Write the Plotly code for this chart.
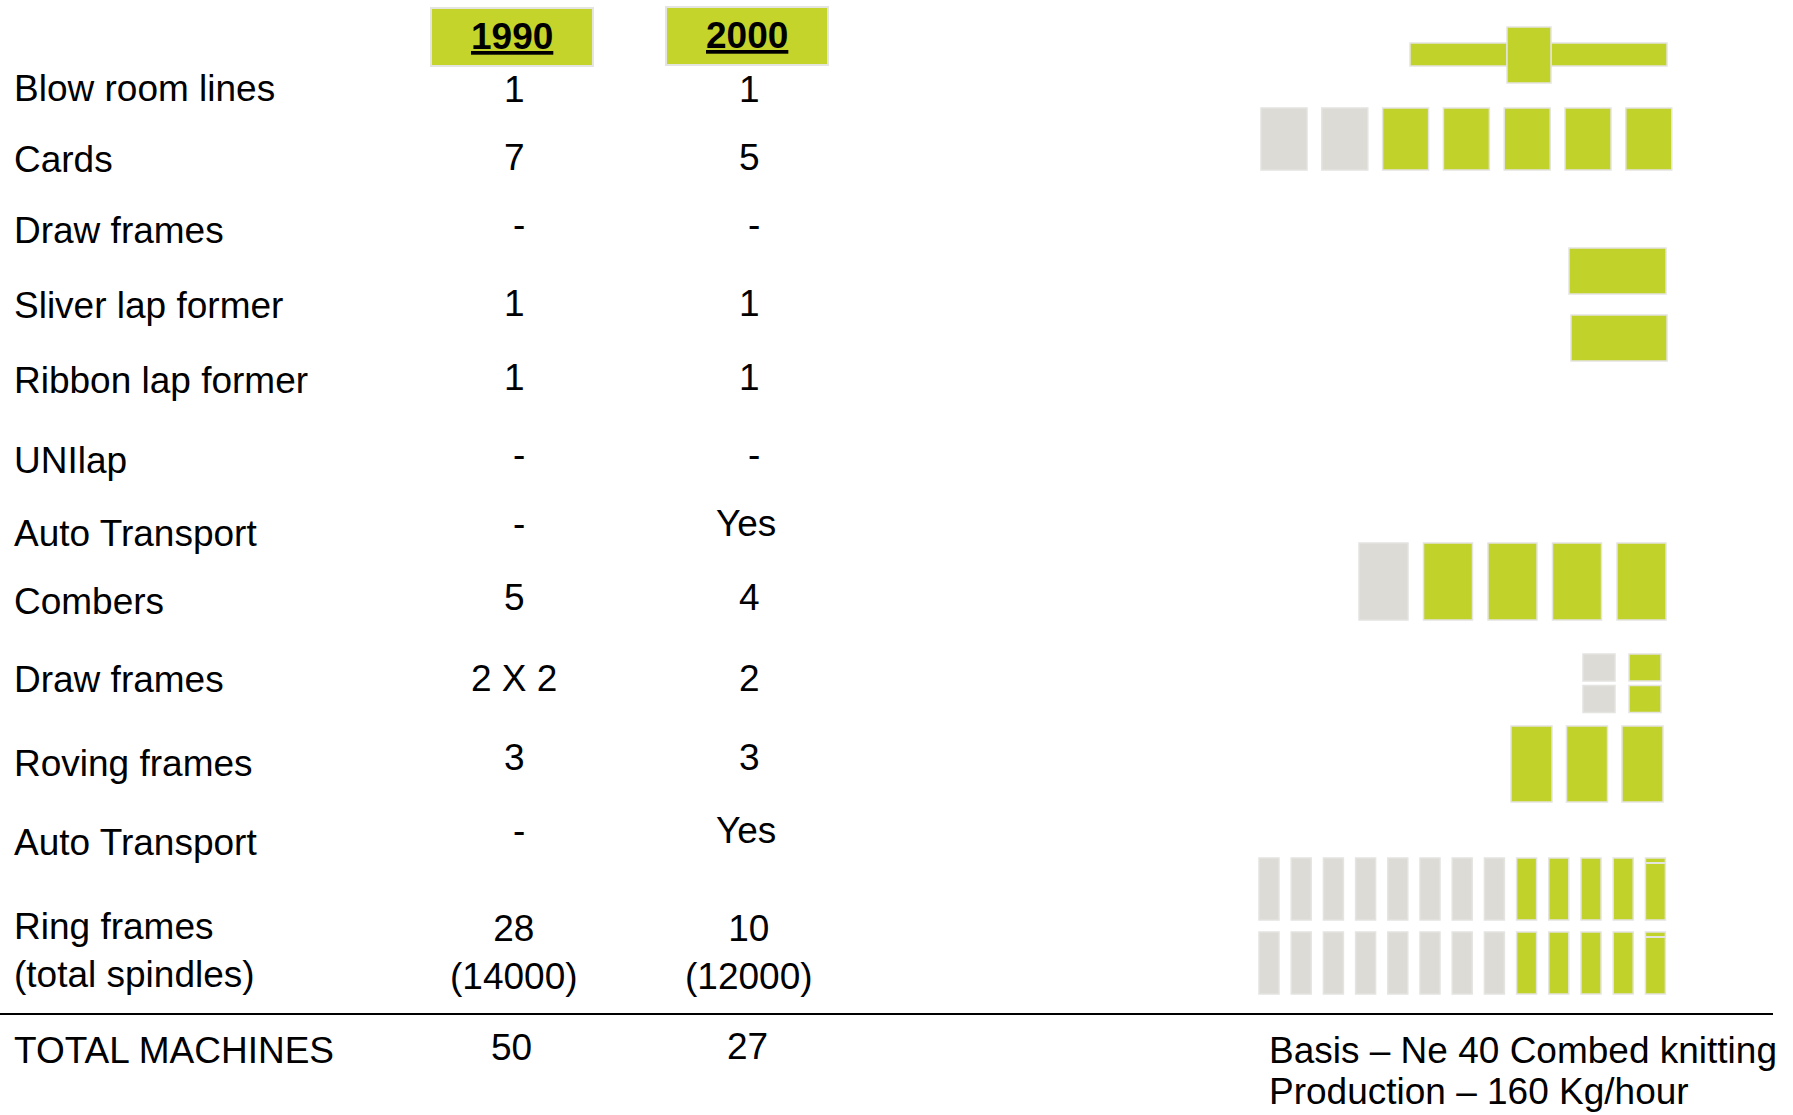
import plotly.graph_objects as go

# ---------------- data ----------------
years = ["1990", "2000"]
machines = ["Blow room lines", "Cards", "Draw frames", "Sliver lap former",
            "Ribbon lap former", "UNIlap", "Auto Transport", "Combers",
            "Draw frames", "Roving frames", "Auto Transport",
            "Ring frames<br>(total spindles)"]
values_1990 = ["1", "7", "-", "1", "1", "-", "-", "5", "2 X 2", "3", "-", "28<br>(14000)"]
values_2000 = ["1", "5", "-", "1", "1", "-", "Yes", "4", "2", "3", "Yes", "10<br>(12000)"]
total_label = "TOTAL MACHINES"
totals = ["50", "27"]
basis_lines = ["Basis \u2013 Ne 40 Combed knitting", "Production \u2013 160 Kg/hour"]

# icon counts: machines removed (grey) and kept (green) 1990 -> 2000
cards_removed, cards_kept = 2, 5
combers_removed, combers_kept = 1, 4
draw_removed, draw_kept = 2, 2
roving_kept = 3
ring_removed, ring_kept = 16, 10

# ---------------- styles / layout ----------------
W, H = 1793, 1115
FONT = "Liberation Sans, Arial, sans-serif"
FS = 37
GREEN = "rgb(193,210,42)"
HEAD_GREEN = "rgb(196,212,42)"
GREY = "rgb(221,219,214)"
EDGE = "rgb(228,228,225)"

label_x = 12
col_x = [514, 749]
label_y = [88, 159, 230, 305, 380, 460, 533, 601, 679, 763, 842, 950]
value_y = [89, 157, 224, 303, 377, 454, 523, 597, 678, 757, 830, 952]
total_y = 1049

fig = go.Figure()
fig.add_trace(go.Scatter(x=[0, W], y=[0, H], mode="markers",
                         marker=dict(opacity=0), hoverinfo="skip", showlegend=False))

shapes = []
annotations = []


def rect(x0, y0, x1, y1, fill, lw=1.5):
    shapes.append(dict(type="rect", xref="x", yref="y", x0=x0, y0=y0, x1=x1, y1=y1,
                       fillcolor=fill, line=dict(color=EDGE, width=lw), layer="above"))


def text(x, y, s, anchor="center", size=FS, align="center"):
    annotations.append(dict(x=x, y=y, xref="x", yref="y", text=s, showarrow=False,
                            xanchor=anchor, yanchor="middle", align=align,
                            font=dict(family=FONT, size=size, color="black")))


def value_x(base, s):
    if s == "-":
        return base + 5
    if s == "Yes":
        return base - 3
    return base


# header boxes
header_boxes = [(431, 8, 593, 66), (666, 7, 828, 65)]
for (x0, y0, x1, y1), yr in zip(header_boxes, years):
    rect(x0, y0, x1, y1, HEAD_GREEN, lw=2)
    text((x0 + x1) / 2, (y0 + y1) / 2 - 1, "<b><u>" + yr + "</u></b>")

# table rows
for lab, ly, vy, a, b in zip(machines, label_y, value_y, values_1990, values_2000):
    text(label_x, ly, lab, anchor="left", align="left")
    text(value_x(col_x[0], a), vy, a)
    text(value_x(col_x[1], b), vy, b)

# separator line
shapes.append(dict(type="line", xref="x", yref="y", x0=0, x1=1773, y0=1014, y1=1014,
                   line=dict(color="black", width=2)))

# totals
text(label_x, total_y + 1, total_label, anchor="left", align="left")
text(col_x[0] - 3, total_y - 2, totals[0])
text(col_x[1] - 2, total_y - 3, totals[1])

# basis
text(1267, 1050, basis_lines[0], anchor="left", align="left")
text(1267, 1091, basis_lines[1], anchor="left", align="left")

# ---------------- icons ----------------
# blow room line
rect(1410, 43, 1507, 66, GREEN)
rect(1551, 43, 1667, 66, GREEN)
rect(1507, 27, 1551, 83, GREEN)

# cards
for i in range(cards_removed + cards_kept):
    x0 = 1261 + i * 60.8
    rect(x0, 108, x0 + 46, 170, GREY if i < cards_removed else GREEN)

# sliver lap former / ribbon lap former
rect(1569, 248, 1666, 294, GREEN)
rect(1571, 315, 1667, 361, GREEN)

# combers
for i in range(combers_removed + combers_kept):
    x0 = 1359 + i * 64.5
    rect(x0, 543, x0 + 49, 620, GREY if i < combers_removed else GREEN)

# draw frames (2 x 2)
for r in range(draw_removed):
    y0 = 654 + r * 31.5
    rect(1583, y0, 1615, y0 + 27, GREY)
for r in range(draw_kept):
    y0 = 654 + r * 31.5
    rect(1629, y0, 1661, y0 + 27, GREEN)

# roving frames
for i in range(roving_kept):
    x0 = 1511 + i * 55.5
    rect(x0, 726, x0 + 41, 802, GREEN)

# ring frames: two rows
per_row = (ring_removed + ring_kept) // 2
grey_per_row = ring_removed // 2
for r in range(2):
    y0 = 858 + r * 74
    for i in range(per_row):
        x0 = 1259 + i * 32.2
        rect(x0, y0, x0 + 20, y0 + 62, GREY if i < grey_per_row else GREEN, lw=1.5)
        if i == per_row - 1:
            shapes.append(dict(type="line", xref="x", yref="y", x0=x0, x1=x0 + 20,
                               y0=y0 + 5, y1=y0 + 5, line=dict(color=EDGE, width=2),
                               layer="above"))

fig.update_layout(
    width=W, height=H, autosize=False,
    margin=dict(l=0, r=0, t=0, b=0, pad=0),
    paper_bgcolor="white", plot_bgcolor="white",
    xaxis=dict(range=[0, W], visible=False, fixedrange=True),
    yaxis=dict(range=[H, 0], visible=False, fixedrange=True),
    shapes=shapes, annotations=annotations, showlegend=False,
)

fig.write_html("out.html", config={"displayModeBar": False},
               post_script="document.body.style.margin='0';")
